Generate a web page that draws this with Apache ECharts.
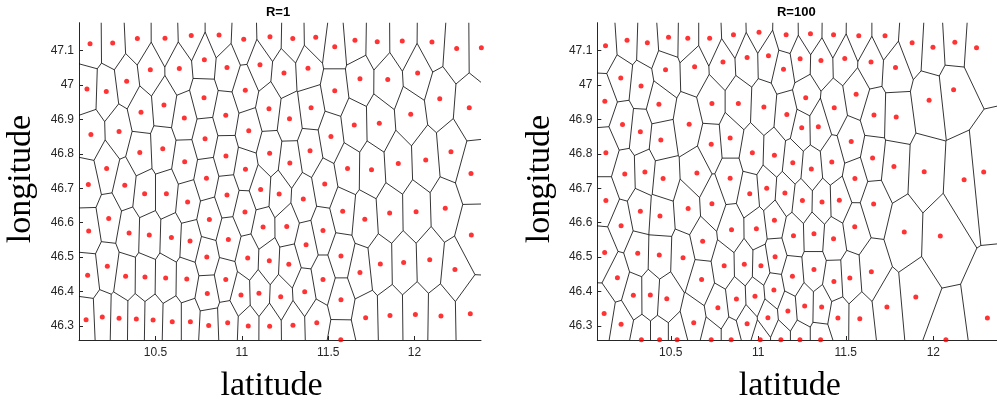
<!DOCTYPE html>
<html><head><meta charset="utf-8">
<script src="https://cdn.jsdelivr.net/npm/echarts@6/dist/echarts.min.js"></script>
<style>html,body{margin:0;padding:0;background:#fff}#c{width:997px;height:406px}</style>
</head><body><div id="c"></div>
<script>
// ---- data (lon = "latitude" axis, lat = "longitude" axis) ----
const leftLon = [10.121,10.252,10.395,10.555,10.707,10.868,11.011,11.163,11.295,11.428,11.538,11.655,11.784,11.929,12.101,12.244,12.387,
10.783,11.105,10.470,10.638,10.914,11.244,11.383,11.684,11.845,12.018,10.333,10.103,10.215,11.020,11.538,10.781,12.146,10.549,11.157,11.401,12.317,10.416,10.907,10.667,11.276,11.978,11.796,11.651,10.289,10.126,11.040,10.787,11.516,10.542,10.409,10.908,11.161,11.395,12.211,10.669,11.278,11.906,12.065,11.612,11.751,12.327,10.217,11.021,10.795,
10.111,10.322,10.437,10.563,10.686,10.914,11.018,11.109,11.216,10.229,10.812,10.113,10.347,10.464,10.592,10.700,10.922,11.123,11.260,10.797,11.034,11.159,11.272,10.221,10.107,10.327,10.439,10.559,10.681,10.907,10.800,10.995,11.099,11.225,10.098,10.192,10.289,10.389,10.486,10.597,10.702,10.808,10.918,11.037,11.161,
11.480,11.356,11.584,11.712,11.856,12.009,12.178,11.470,11.372,12.329,11.574,11.802,11.937,12.088,12.234,11.684,11.470,11.364,11.574,11.296,11.434,11.717,11.858,12.005,12.153,12.323,11.573];
const leftLat = [47.120,47.122,47.135,47.136,47.144,47.145,47.133,47.140,47.135,47.139,47.111,47.130,47.126,47.128,47.125,47.106,47.108,
47.073,47.059,47.044,47.048,47.051,47.035,47.049,47.018,47.016,47.035,47.011,46.988,46.981,46.985,46.983,46.963,46.960,46.942,46.931,46.934,46.934,46.921,46.912,46.904,46.902,46.915,46.889,46.884,46.865,46.856,46.867,46.844,46.850,46.815,46.804,46.794,46.802,46.809,46.806,46.777,46.773,46.772,46.782,46.757,46.754,46.743,46.757,46.755,46.729,
46.711,46.709,46.684,46.684,46.660,46.680,46.631,46.696,46.683,46.612,46.609,46.576,46.570,46.564,46.557,46.547,46.551,46.587,46.589,46.500,46.497,46.489,46.479,46.473,46.447,46.444,46.442,46.439,46.436,46.435,46.394,46.390,46.395,46.385,46.318,46.326,46.322,46.320,46.317,46.312,46.312,46.301,46.309,46.300,46.299,
46.712,46.669,46.633,46.610,46.628,46.632,46.642,46.577,46.536,46.564,46.503,46.480,46.484,46.492,46.464,46.455,46.435,46.399,46.376,46.302,46.309,46.324,46.330,46.333,46.329,46.335,46.260];

const rightLon = [10.127,10.250,10.366,10.487,10.597,10.722,10.858,11.004,11.159,11.298,11.430,11.574,11.724,11.879,11.998,12.123,12.247,10.936,11.058,10.798,10.636,10.470,10.214,10.330,10.123,10.432,10.735,10.886,11.032,10.224,10.605,10.326,10.839,10.443,10.731,10.129,10.966,11.092,10.237,10.352,10.456,10.649,10.839,
11.239,11.358,11.494,11.644,11.784,11.144,12.116,11.559,11.271,11.976,11.434,11.163,11.661,11.788,11.343,11.248,11.531,11.197,11.420,11.653,11.303,11.775,11.948,12.288,11.552,12.176,
10.129,10.326,10.438,10.599,10.735,10.951,11.048,10.216,10.847,10.989,11.092,10.682,10.122,10.311,10.434,10.570,10.805,10.920,11.015,11.096,10.195,10.676,10.286,10.383,10.477,10.875,10.981,11.089,10.769,10.119,10.216,10.631,10.936,11.055,
10.332,10.436,10.536,10.731,10.845,11.011,11.129,11.238,11.356,12.072,
11.152,11.252,11.364,11.463,11.659,11.551,11.834,12.040,11.201,11.318,11.430,11.318,11.195,11.432,11.523,11.646,11.900,11.265,11.362,11.735,11.169,11.455,11.580,12.309];
const rightLat = [47.114,47.130,47.123,47.139,47.136,47.136,47.146,47.153,47.146,47.149,47.146,47.143,47.143,47.123,47.110,47.124,47.108,47.080,47.085,47.067,47.053,47.044,47.020,46.997,46.953,46.944,46.946,46.946,46.936,46.885,46.886,46.864,46.846,46.840,46.828,46.803,46.803,46.796,46.741,46.747,46.728,46.744,46.729,
47.076,47.071,47.077,47.067,47.051,47.046,46.986,46.973,46.963,46.956,46.934,46.914,46.913,46.907,46.879,46.876,46.836,46.774,46.776,46.788,46.756,46.763,46.748,46.747,46.728,46.725,
46.664,46.633,46.619,46.641,46.655,46.684,46.700,46.591,46.579,46.582,46.607,46.546,46.513,46.511,46.506,46.498,46.475,46.479,46.475,46.501,46.440,46.435,46.389,46.390,46.379,46.378,46.386,46.404,46.353,46.336,46.305,46.309,46.306,46.324,
46.260,46.260,46.260,46.260,46.260,46.260,46.260,46.260,46.260,46.260,
46.686,46.664,46.660,46.665,46.654,46.588,46.573,46.561,46.562,46.568,46.553,46.464,46.444,46.429,46.439,46.457,46.384,46.358,46.355,46.355,46.343,46.323,46.321,46.323];

const xTicks = [10.5, 11, 11.5, 12];
const yTicks = [46.3, 46.4, 46.5, 46.6, 46.7, 46.8, 46.9, 47, 47.1];
const panelTitles = ['R=1', 'R=100'];
const xLabel = 'latitude';
const yLabel = 'longitude';

// ---- Voronoi cells (in data space) by half-plane clipping ----
function voronoiEdges(xs, ys) {
  const n = xs.length, edges = [];
  const B = {x0: 8, x1: 14.5, y0: 44.5, y1: 49};
  for (let i = 0; i < n; i++) {
    let poly = [{x:B.x0,y:B.y0,l:-1},{x:B.x1,y:B.y0,l:-1},{x:B.x1,y:B.y1,l:-1},{x:B.x0,y:B.y1,l:-1}];
    const xi = xs[i], yi = ys[i];
    for (let j = 0; j < n && poly.length; j++) {
      if (j === i) continue;
      const a = xs[j]-xi, b = ys[j]-yi;
      const mx = (xs[j]+xi)/2, my = (ys[j]+yi)/2;
      const out = [], m = poly.length;
      for (let k = 0; k < m; k++) {
        const P = poly[k], Q = poly[(k+1)%m];
        const fP = a*(P.x-mx)+b*(P.y-my), fQ = a*(Q.x-mx)+b*(Q.y-my);
        const inP = fP <= 0, inQ = fQ <= 0;
        if (inP) out.push({x:P.x,y:P.y,l:P.l});
        if (inP !== inQ) {
          const t = fP/(fP-fQ);
          const ix = P.x+t*(Q.x-P.x), iy = P.y+t*(Q.y-P.y);
          out.push({x:ix,y:iy,l: inP ? j : P.l});
        }
      }
      poly = out;
    }
    for (let k = 0; k < poly.length; k++) {
      const P = poly[k], Q = poly[(k+1)%poly.length];
      if (P.l > i) edges.push([P.x,P.y,Q.x,Q.y]);
    }
  }
  return edges;
}

const panels = [
  {lon: leftLon, lat: leftLat, left: 79, xmin: 10.057, xmax: 12.385},
  {lon: rightLon, lat: rightLat, left: 597.3, xmin: 10.080, xmax: 12.364}
];
const axisColor = '#262626';
const grids = [], xAxes = [], yAxes = [], series = [], graphics = [];
panels.forEach((p, gi) => {
  grids.push({left: p.left, top: 22.7, width: 402, height: 317.3});
  xAxes.push({type:'value', gridIndex: gi, min: p.xmin, max: p.xmax,
    axisLine:{show:true, onZero:false, lineStyle:{color:axisColor, width:1}},
    axisTick:{show:true, inside:true, length:4, customValues:xTicks, lineStyle:{color:axisColor}},
    axisLabel:{customValues:xTicks, color:axisColor, fontSize:12, fontFamily:'Liberation Sans', margin:7},
    splitLine:{show:false}});
  yAxes.push({type:'value', gridIndex: gi, min: 46.259, max: 47.181,
    axisLine:{show:true, onZero:false, lineStyle:{color:axisColor, width:1}},
    axisTick:{show:true, inside:true, length:4, customValues:yTicks, lineStyle:{color:axisColor}},
    axisLabel:{customValues:yTicks, color:axisColor, fontSize:12, fontFamily:'Liberation Sans', margin:5},
    splitLine:{show:false}});
  series.push({type:'custom', xAxisIndex: gi, yAxisIndex: gi, clip: true, silent: true, z: 2,
    data: voronoiEdges(p.lon, p.lat),
    encode: {x:[0,2], y:[1,3]},
    renderItem: (params, api) => {
      const p1 = api.coord([api.value(0), api.value(1)]);
      const p2 = api.coord([api.value(2), api.value(3)]);
      return {type:'line', shape:{x1:p1[0],y1:p1[1],x2:p2[0],y2:p2[1]},
        style:{stroke:'#000', lineWidth:0.8}};
    }});
  series.push({type:'scatter', xAxisIndex: gi, yAxisIndex: gi, clip:false, silent:true, z: 3,
    symbolSize: 5, itemStyle:{color:'#ff0000'},
    data: p.lon.map((x, i) => [x, p.lat[i]])});
  const cx = p.left + 201;
  graphics.push({type:'text', x: cx - 2, y: 12.5, style:{text: panelTitles[gi], font:'bold 13px "Liberation Sans"', fill:'#000', textAlign:'center', textVerticalAlign:'middle', align:'center', verticalAlign:'middle'}});
  graphics.push({type:'text', x: cx - 8.5, y: 386.5, style:{text: xLabel, font:'34px "Liberation Serif"', fill:'#000', textAlign:'center', textVerticalAlign:'middle', align:'center', verticalAlign:'middle'}});
  graphics.push({type:'text', x: p.left - 57.5, y: 179, rotation: Math.PI/2, style:{text: yLabel, font:'34px "Liberation Serif"', fill:'#000', textAlign:'center', textVerticalAlign:'middle', align:'center', verticalAlign:'middle'}});
});

const chart = echarts.init(document.getElementById('c'), null, {renderer:'canvas'});
chart.setOption({animation:false, backgroundColor:'#fff', grid: grids, xAxis: xAxes, yAxis: yAxes, series: series, graphic: graphics});
</script></body></html>
